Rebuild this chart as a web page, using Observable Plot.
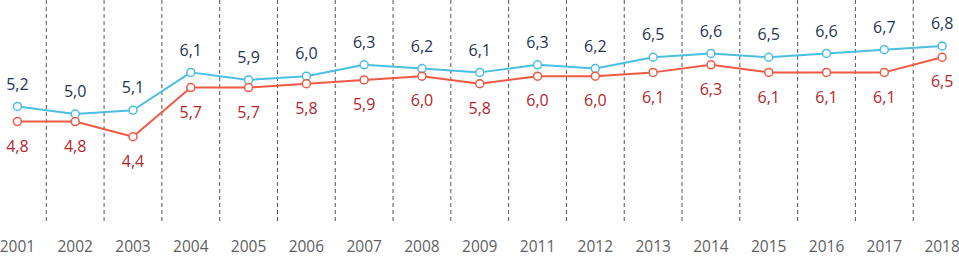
<!DOCTYPE html>
<html>
<head>
<meta charset="utf-8">
<script src="https://cdn.jsdelivr.net/npm/d3@7"></script>
<script src="https://cdn.jsdelivr.net/npm/@observablehq/plot@0.6"></script>
<style>
  html, body { margin: 0; padding: 0; background: #fff; }
  #chart svg { display: block; }
</style>
</head>
<body>
<div id="chart"></div>
<script>
const years = ["2001","2002","2003","2004","2005","2006","2007","2008","2009","2011","2012","2013","2014","2015","2016","2017","2018"];
const blueValues = [5.2,5.0,5.1,6.1,5.9,6.0,6.3,6.2,6.1,6.3,6.2,6.5,6.6,6.5,6.6,6.7,6.8];
const redValues  = [4.8,4.8,4.4,5.7,5.7,5.8,5.9,6.0,5.8,6.0,6.0,6.1,6.3,6.1,6.1,6.1,6.5];

const blueData = years.map((y, i) => ({i, year: y, v: blueValues[i]}));
const redData = years.map((y, i) => ({i, year: y, v: redValues[i]}));
const dividers = years.slice(1).map((y, k) => ({pos: k + 0.5}));

const fmt = v => d3.format(".1f")(v).replace(".", ",");

const blueLine = "#4bbfe0";
const redLine = "#ef5a45";
const blueText = "#1f3553";
const redText = "#b3262c";

const chart = Plot.plot({
  width: 959,
  height: 256,
  marginLeft: 0,
  marginRight: 0,
  marginTop: 0,
  marginBottom: 29,
  style: {fontFamily: "'Open Sans', sans-serif", background: "#fff"},
  x: {type: "linear", domain: [-0.5, years.length - 0.5], range: [-12, 970.5]},
  y: {domain: [2, 8], axis: null},
  marks: [
    Plot.ruleX(dividers, {x: "pos", y1: 8, y2: 2.1, stroke: "#555", strokeWidth: 1, strokeDasharray: "4,3"}),
    Plot.axisX({
      ticks: years.map((y, i) => i),
      tickFormat: i => years[i],
      tickSize: 0,
      tickPadding: 13,
      fontSize: 15.5,
      fill: "#5f5f5f",
      label: null
    }),
    Plot.line(blueData, {x: "i", y: "v", stroke: blueLine, strokeWidth: 2}),
    Plot.line(redData, {x: "i", y: "v", stroke: redLine, strokeWidth: 2}),
    Plot.dot(blueData, {x: "i", y: "v", r: 4, fill: "white", stroke: blueLine, strokeWidth: 1.5}),
    Plot.dot(redData, {x: "i", y: "v", r: 4, fill: "white", stroke: redLine, strokeWidth: 1.5}),
    Plot.text(blueData, {x: "i", y: "v", text: d => fmt(d.v), dy: -22, fill: blueText, fontSize: 16}),
    Plot.text(redData, {x: "i", y: "v", text: d => fmt(d.v), dy: 25, fill: redText, fontSize: 16})
  ]
});
document.getElementById("chart").appendChild(chart);
</script>
</body>
</html>
